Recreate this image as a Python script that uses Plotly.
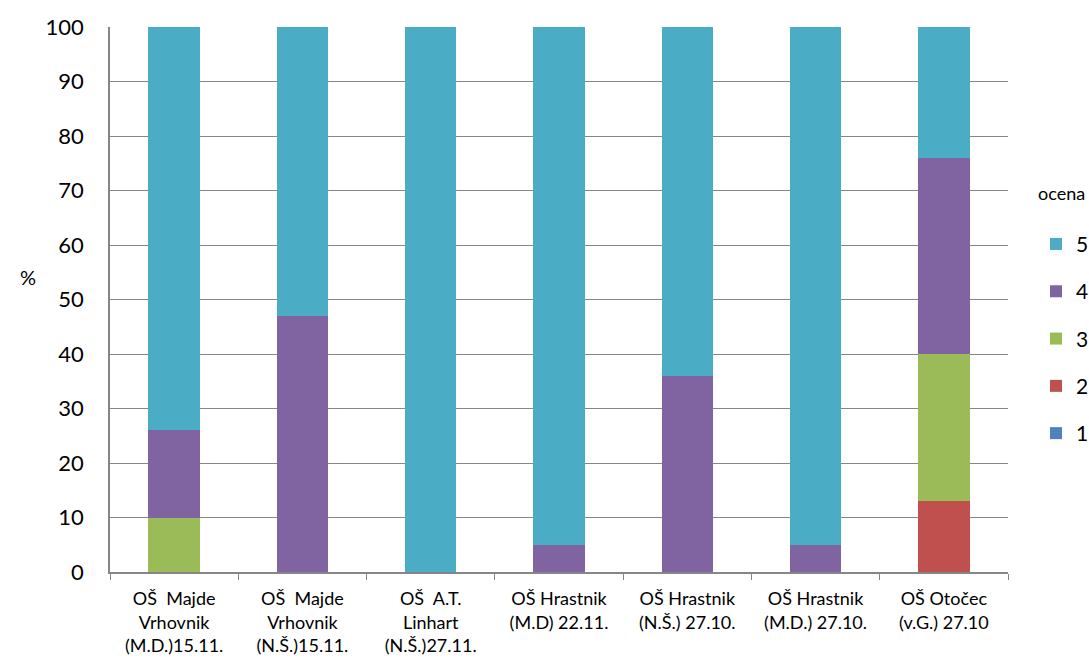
import plotly.graph_objects as go

categories = [
    "OŠ  Majde<br>Vrhovnik<br>(M.D.)15.11.",
    "OŠ  Majde<br>Vrhovnik<br>(N.Š.)15.11.",
    "OŠ  A.T.<br>Linhart<br>(N.Š.)27.11.",
    "OŠ Hrastnik<br>(M.D) 22.11.",
    "OŠ Hrastnik<br>(N.Š.) 27.10.",
    "OŠ Hrastnik<br>(M.D.) 27.10.",
    "OŠ Otočec<br>(v.G.) 27.10",
]
ocena_1 = [0, 0, 0, 0, 0, 0, 0]
ocena_2 = [0, 0, 0, 0, 0, 0, 13]
ocena_3 = [10, 0, 0, 0, 0, 0, 27]
ocena_4 = [16, 47, 0, 5, 36, 5, 36]
ocena_5 = [74, 53, 100, 95, 64, 95, 24]

series = [
    ("1", ocena_1, "#4F81BD"),
    ("2", ocena_2, "#C0504D"),
    ("3", ocena_3, "#9BBB59"),
    ("4", ocena_4, "#8064A2"),
    ("5", ocena_5, "#4BACC6"),
]

FONT = "Lato"
# plot area should sit at screen x 110..1008, y 27..572 (body margin removed)
L, T = 110, 27
PW, PH = 898, 545
W, H = 1089, 659
R = W - L - PW
B = H - T - PH

fig = go.Figure()
n = len(series)
for i, (name, vals, color) in enumerate(series):
    fig.add_trace(go.Bar(
        x=categories, y=vals, name=name, legendgroup=name,
        legendrank=n - i,
        marker=dict(color=color, line=dict(width=0)),
        width=0.4,
    ))

fig.update_layout(
    width=W, height=H,
    barmode="stack",
    paper_bgcolor="white", plot_bgcolor="white",
    margin=dict(l=L, r=R, t=T, b=B, autoexpand=False),
    font=dict(family=FONT, color="black", size=21),
    legend=dict(
        title=dict(text="ocena<br> ", font=dict(size=18), side="top"),
        traceorder="grouped",
        tracegroupgap=17,
        x=(1036 - L) / PW, xanchor="left",
        y=1 - (177 - T) / PH, yanchor="top",
        font=dict(size=21),
        itemwidth=30,
    ),
    showlegend=True,
)
fig.update_yaxes(
    range=[0, 100], dtick=10,
    showgrid=True, gridcolor="#868686", gridwidth=1,
    showline=True, linecolor="#868686", linewidth=1.5,
    ticks="", ticklabelstandoff=20,
    tickfont=dict(size=22),
    zeroline=False,
)
fig.update_xaxes(
    showline=True, linecolor="#868686", linewidth=1.5,
    ticks="outside", tickson="boundaries", ticklen=6, tickcolor="#868686",
    tickfont=dict(size=18),
    ticklabelstandoff=10,
)
fig.add_annotation(
    text="%", showarrow=False, xref="paper", yref="paper",
    x=(18 - L) / PW, y=1 - (277 - T) / PH,
    font=dict(size=20),
)

fig.write_html(
    "out.html",
    config={"displayModeBar": False},
    post_script="document.body.style.margin='0';document.body.style.overflow='hidden';",
)
